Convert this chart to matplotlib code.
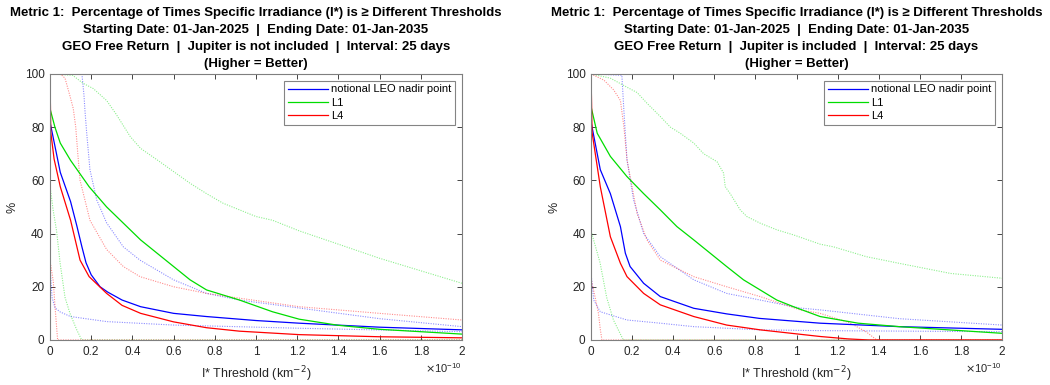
import matplotlib
matplotlib.use("Agg")
import matplotlib.pyplot as plt
from matplotlib.ticker import ScalarFormatter
import numpy as np

plt.rcParams['font.family'] = ['Liberation Sans', 'DejaVu Sans']

# threshold values are given in units of 1e-10 km^-2
SCALE = 1e-10

# ---------- left panel: Jupiter is not included ----------
# solid curves (median)
nj_leo_x = [0, 0.05, 0.1, 0.13, 0.155, 0.175, 0.2, 0.243, 0.28, 0.35, 0.44, 0.6, 0.76, 1.0, 1.21, 1.6, 2.0]
nj_leo_y = [82, 63, 52, 43, 35, 29, 24.5, 20, 18, 15, 12.5, 10, 8.8, 7.3, 6.3, 4.8, 3.8]
nj_l1_x = [0, 0.024, 0.05, 0.1, 0.19, 0.275, 0.44, 0.6, 0.68, 0.76, 0.92, 1.08, 1.21, 1.4, 1.6, 2.0]
nj_l1_y = [87, 80, 74, 67.5, 57.6, 50, 37.6, 27.6, 22.6, 18.8, 15, 10.6, 7.8, 5.5, 4, 2.2]
nj_l4_x = [0, 0.004, 0.02, 0.05, 0.1, 0.146, 0.19, 0.275, 0.35, 0.44, 0.6, 0.76, 0.92, 1.21, 1.6, 2.0]
nj_l4_y = [100, 78, 68, 57.6, 45, 30, 23.8, 17.5, 13, 10, 6.8, 4.6, 3.3, 2, 1.2, 0.8]
# dotted curves (upper bound)
nj_leo_hi_x = [0, 0.155, 0.165, 0.17, 0.178, 0.194, 0.227, 0.275, 0.356, 0.437, 0.6, 0.76, 0.92, 1.21, 1.6, 2.0]
nj_leo_hi_y = [100, 100, 92, 86, 78, 64, 52.6, 44, 35, 30, 22.6, 17.5, 15, 12, 8, 5]
nj_l1_hi_x = [0, 0.11, 0.16, 0.21, 0.275, 0.32, 0.39, 0.44, 0.52, 0.6, 0.68, 0.76, 0.84, 0.92, 1.0, 1.08, 1.21, 1.4, 1.6, 1.8, 2.0]
nj_l1_hi_y = [100, 99.5, 96.5, 94.5, 90, 85, 76.4, 72, 67.7, 63.3, 58.9, 55, 51.4, 48.9, 46.4, 45, 41, 36, 30.7, 26, 21.3]
nj_l4_hi_x = [0, 0.05, 0.073, 0.097, 0.113, 0.125, 0.135, 0.146, 0.194, 0.275, 0.356, 0.437, 0.6, 0.76, 0.92, 1.21, 1.6, 2.0]
nj_l4_hi_y = [100, 100, 98.4, 91.7, 87, 80, 70, 60, 45, 34, 27.6, 23.8, 20, 17.5, 15.7, 12.5, 10, 7.5]
# dotted curves (lower bound)
nj_leo_lo_x = [0, 0.01, 0.025, 0.05, 0.1, 0.275, 0.6, 1.21, 2.0]
nj_leo_lo_y = [28, 16, 12, 10.5, 8.8, 6.9, 5.6, 4.4, 3.1]
nj_l1_lo_x = [0, 0.015, 0.032, 0.049, 0.073, 0.097, 0.13, 0.154, 2.0]
nj_l1_lo_y = [58, 49, 41, 29, 16, 10, 3.8, 0, 0]
nj_l4_lo_x = [0, 0.016, 0.025, 0.032, 0.037, 2.0]
nj_l4_lo_y = [30, 22, 12, 5, 0, 0]

# ---------- right panel: Jupiter is included ----------
j_leo_x = [0, 0.045, 0.094, 0.143, 0.167, 0.19, 0.256, 0.337, 0.5, 0.66, 0.82, 1.115, 1.5, 2.0]
j_leo_y = [82, 64, 55, 42.6, 32.6, 27.6, 21.3, 16.3, 11.9, 9.8, 8.1, 6.3, 5, 4]
j_l1_x = [0, 0.03, 0.094, 0.175, 0.256, 0.337, 0.418, 0.5, 0.58, 0.66, 0.742, 0.823, 0.904, 0.985, 1.115, 1.3, 1.5, 2.0]
j_l1_y = [87.7, 77.7, 69, 61.4, 55, 48.9, 42.6, 37.6, 32.6, 27.6, 22.6, 18.8, 15, 12.5, 8.8, 6.3, 5, 2.5]
j_l4_x = [0, 0.005, 0.045, 0.094, 0.143, 0.175, 0.256, 0.337, 0.5, 0.66, 0.823, 1.115, 1.25, 1.35, 2.0]
j_l4_y = [100, 78, 57.6, 38.8, 28.8, 23.8, 17.5, 13.2, 8.8, 5.6, 3.8, 1.3, 0.4, 0, 0]
j_leo_hi_x = [0, 0.15, 0.16, 0.175, 0.207, 0.256, 0.337, 0.5, 0.66, 0.823, 1.017, 1.115, 1.5, 2.0]
j_leo_hi_y = [100, 99.5, 86, 67.7, 52.6, 40, 31.3, 22.6, 17.5, 15, 12, 11.3, 8, 5.6]
j_l1_hi_x = [0, 0.094, 0.175, 0.224, 0.272, 0.337, 0.386, 0.434, 0.5, 0.548, 0.613, 0.645, 0.653, 0.677, 0.726, 0.758, 0.823, 0.904, 0.985, 1.115, 1.18, 1.34, 1.5, 1.75, 2.0]
j_l1_hi_y = [100, 98.4, 95, 93, 89, 84, 80, 77.7, 74, 70, 67, 62.7, 57.6, 55, 48.9, 46.4, 43.9, 41.4, 39.5, 36, 35, 31.3, 28.8, 25, 23.2]
j_l4_hi_x = [0, 0.062, 0.11, 0.143, 0.16, 0.175, 0.224, 0.272, 0.337, 0.5, 0.66, 0.823, 1.017, 1.115, 1.26, 1.34, 1.39, 2.0]
j_l4_hi_y = [100, 97.7, 94, 90, 80, 67.7, 47.6, 37.6, 30, 23.8, 20, 16.3, 11.3, 10, 6.4, 3, 0, 0]
j_leo_lo_x = [0, 0.013, 0.045, 0.175, 0.337, 0.5, 0.823, 1.115, 2.0]
j_leo_lo_y = [25, 15, 10.6, 7.5, 6.3, 5, 3.8, 3.5, 3.1]
j_l1_lo_x = [0, 0.044, 0.076, 0.109, 0.157, 2.0]
j_l1_lo_y = [41, 29, 16, 7.5, 0, 0]
j_l4_lo_x = [0, 0.02, 0.036, 0.045, 0.053, 2.0]
j_l4_lo_y = [23, 16, 10, 4, 0, 0]

labels = ['notional LEO nadir point', 'L1', 'L4']
colors = ['#0000ff', '#00dd00', '#ff0000']

titles = [
    ['Metric 1:  Percentage of Times Specific Irradiance (I*) is \u2265 Different Thresholds',
     'Starting Date: 01-Jan-2025  |  Ending Date: 01-Jan-2035',
     'GEO Free Return  |  Jupiter is not included  |  Interval: 25 days',
     '(Higher = Better)'],
    ['Metric 1:  Percentage of Times Specific Irradiance (I*) is \u2265 Different Thresholds',
     'Starting Date: 01-Jan-2025  |  Ending Date: 01-Jan-2035',
     'GEO Free Return  |  Jupiter is included  |  Interval: 25 days',
     '(Higher = Better)'],
]

panels = [
    {'solid': [(nj_leo_x, nj_leo_y), (nj_l1_x, nj_l1_y), (nj_l4_x, nj_l4_y)],
     'hi': [(nj_leo_hi_x, nj_leo_hi_y), (nj_l1_hi_x, nj_l1_hi_y), (nj_l4_hi_x, nj_l4_hi_y)],
     'lo': [(nj_leo_lo_x, nj_leo_lo_y), (nj_l1_lo_x, nj_l1_lo_y), (nj_l4_lo_x, nj_l4_lo_y)]},
    {'solid': [(j_leo_x, j_leo_y), (j_l1_x, j_l1_y), (j_l4_x, j_l4_y)],
     'hi': [(j_leo_hi_x, j_leo_hi_y), (j_l1_hi_x, j_l1_hi_y), (j_l4_hi_x, j_l4_hi_y)],
     'lo': [(j_leo_lo_x, j_leo_lo_y), (j_l1_lo_x, j_l1_lo_y), (j_l4_lo_x, j_l4_lo_y)]},
]


class CompactFormatter(ScalarFormatter):
    # MATLAB-like tick labels: 0, 0.2, ..., 1, 1.2, ... with a shared x10^n offset
    def __call__(self, x, pos=None):
        return f'{x / 10 ** self.orderOfMagnitude:g}'


fig = plt.figure(figsize=(10.5, 3.85), dpi=100)
axes_pos = [[0.0476, 0.117, 0.3924, 0.691], [0.5629, 0.117, 0.3914, 0.691]]
title_y = [1.229, 1.165, 1.1015, 1.039]

axis_col = '#262626'

for k, p in enumerate(panels):
    ax = fig.add_axes(axes_pos[k])
    handles = []
    # dotted envelopes first so solid lines sit on top
    for i in range(3):
        for key in ('hi', 'lo'):
            x, y = p[key][i]
            ax.plot(np.array(x) * SCALE, y, color=colors[i], linestyle=(0, (1, 1.2)),
                    linewidth=0.8, alpha=0.45)
    for i in range(3):
        x, y = p['solid'][i]
        h, = ax.plot(np.array(x) * SCALE, y, color=colors[i], linewidth=0.9, label=labels[i])
        handles.append(h)

    ax.set_xlim(0, 2 * SCALE)
    ax.set_ylim(0, 100)
    ax.set_xticks(np.arange(0, 2.01, 0.2) * SCALE)
    ax.set_yticks(np.arange(0, 101, 20))
    fmt = CompactFormatter(useMathText=True)
    fmt.set_powerlimits((-3, 3))
    ax.xaxis.set_major_formatter(fmt)
    ax.xaxis.get_offset_text().set_fontsize(8)
    ax.xaxis.get_offset_text().set_color(axis_col)

    ax.tick_params(direction='in', top=True, right=True, length=3.5, width=0.6,
                   labelsize=8.5, colors=axis_col, pad=4)
    for s in ax.spines.values():
        s.set_color('#7f7f7f')
        s.set_linewidth(0.8)

    ax.set_xlabel('I* Threshold (km$^{-2}$)', fontsize=9, color=axis_col, labelpad=5)
    ax.set_ylabel('%', fontsize=9, color=axis_col, labelpad=4)
    for line, ty in zip(titles[k], title_y):
        ax.text(0.5, ty, line, transform=ax.transAxes, ha='center', va='center',
                fontsize=9.5, fontweight='bold', color='black')

    leg = ax.legend(handles=handles, loc='upper right', fontsize=8, frameon=True,
                    fancybox=False, edgecolor='#666666', handlelength=3.6,
                    borderaxespad=0.6, labelspacing=0.3, borderpad=0.35, handletextpad=0.3)
    leg.get_frame().set_linewidth(0.8)

fig.savefig('out.png', dpi=100)
